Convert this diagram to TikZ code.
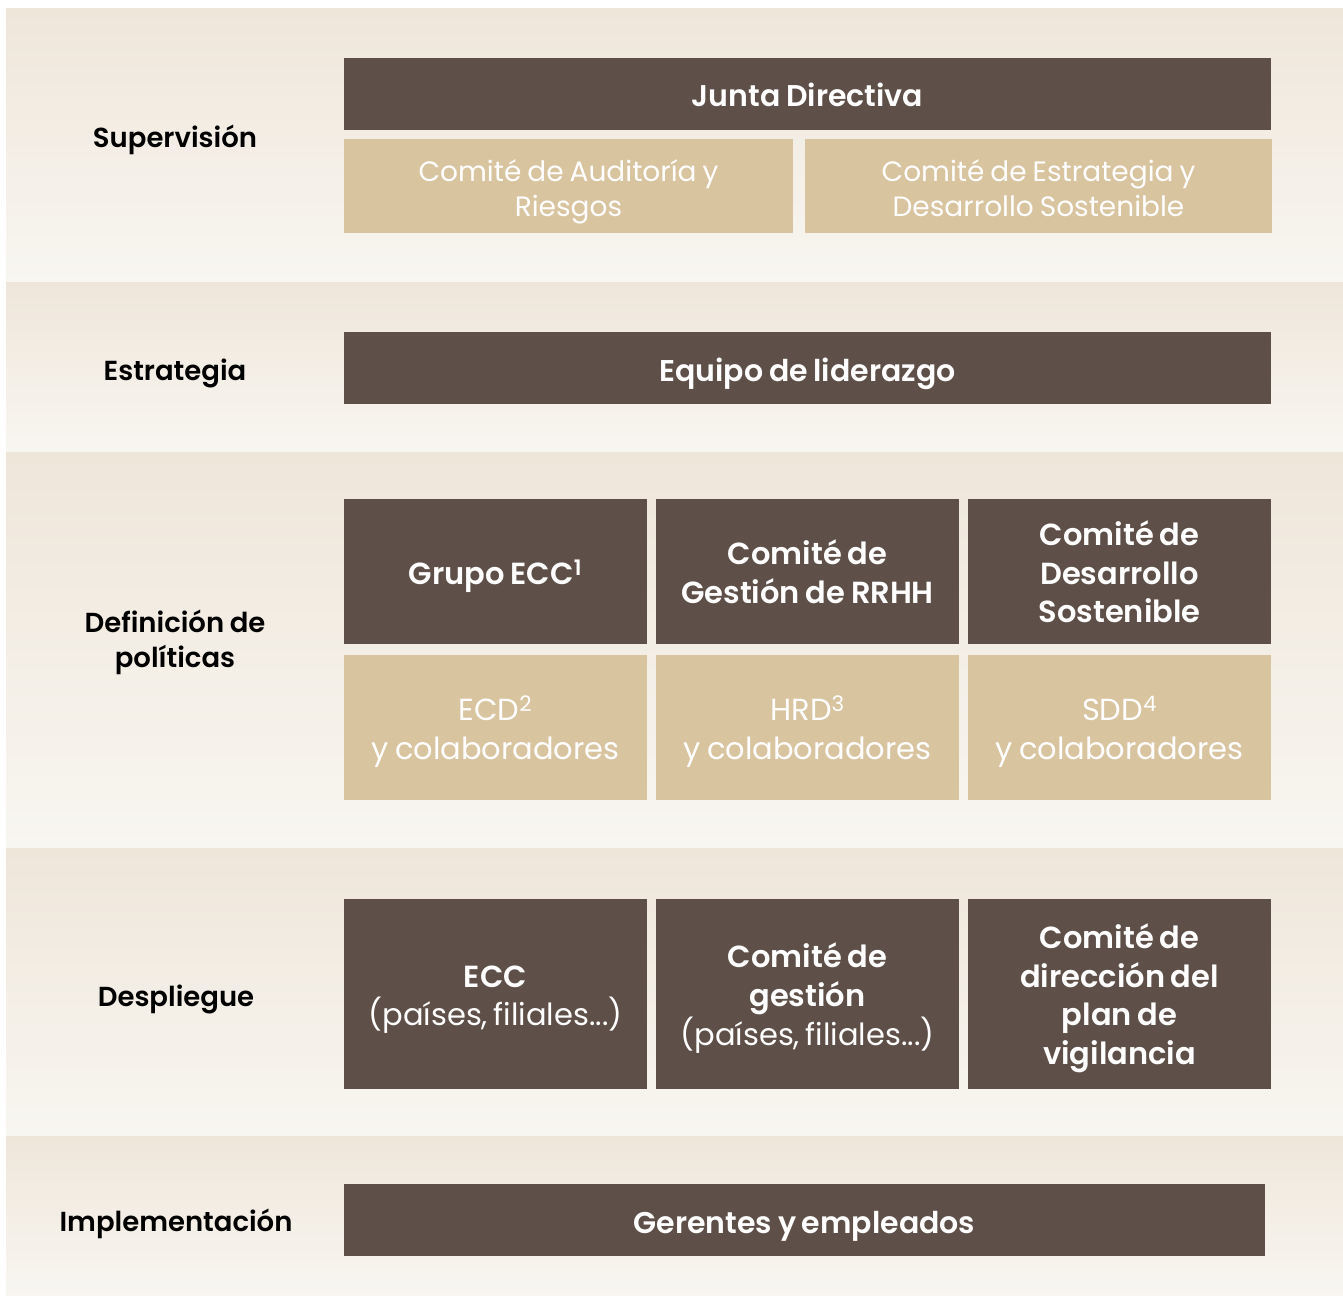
\documentclass[tikz,border=0pt]{standalone}
\usepackage{fontspec}
\setmainfont{Poppins}[UprightFont=*, BoldFont=* SemiBold]
\definecolor{bandtop}{HTML}{EFE6DA}
\definecolor{bandbot}{HTML}{F8F6F1}
\definecolor{darkbox}{HTML}{5E5048}
\definecolor{tanbox}{HTML}{D9C4A0}
\newcommand{\tightsp}{\spaceskip=0.8\fontdimen2\font plus 0.1\fontdimen3\font\relax}
\newcommand{\lblsp}{\spaceskip=0.85\fontdimen2\font plus 0.1\fontdimen3\font\relax}
\newcommand{\topstrut}[1]{\relax\vrule height #1 depth 0pt width 0pt\relax}
\newcommand{\botstrut}{\relax\vrule height 0pt depth 9pt width 0pt\relax}
\newcommand{\sT}{\topstrut{35pt}}% single-line box text
\newcommand{\mT}{\topstrut{34pt}}% multi-line box text
\newcommand{\lT}{\topstrut{31pt}}% single-line label
\newcommand{\lmT}{\topstrut{32pt}}% multi-line label
\begin{document}
\begin{tikzpicture}[x=1pt,y=-1pt,
  boxbase/.style={rectangle, inner sep=0pt, align=center, text=white},
  darkb/.style={boxbase, fill=darkbox, font=\fontsize{30.5}{38.7}\selectfont\bfseries\tightsp},
  widedark/.style={darkb, font=\fontsize{30}{38.7}\selectfont\bfseries\tightsp},
  tanb/.style={boxbase, fill=tanbox, font=\fontsize{30.5}{38.7}\selectfont\tightsp},
  tansm/.style={boxbase, fill=tanbox, font=\fontsize{28}{35}\selectfont\tightsp},
  lbl/.style={inner sep=0pt, align=center, text=black,
    font=\fontsize{27.5}{35}\selectfont\bfseries\lblsp}]
\useasboundingbox (0,0) rectangle (1343,1295);
\fill[white] (0,0) rectangle (1343,1295);
\foreach \a/\b in {9/282,282/452,452/848,848/1136,1136/1295}
  \shade[top color=bandtop, bottom color=bandbot] (6,\a) rectangle (1343,\b);
% labels
\node[lbl] (l1) at (175,136) {\lT Supervisión\botstrut};
\node[lbl] (l2) at (175,369) {\lT Estrategia\botstrut};
\node[lbl] (l3) at (175,638) {\lmT Definición de\\políticas\botstrut};
\node[lbl] (l4) at (176,995) {\lT Despliegue\botstrut};
\node[lbl] (l5) at (176,1220) {\lT Implementación\botstrut};
% supervision
\node[widedark, minimum width=927pt, minimum height=72pt] (jd) at (807.5,94) {\sT Junta Directiva\botstrut};
\node[tansm, minimum width=449pt, minimum height=94pt] (car) at (568.5,186) {\mT Comité de Auditoría y\\Riesgos\botstrut};
\node[tansm, minimum width=467pt, minimum height=94pt] (ceds) at (1038.5,186) {\mT Comité de Estrategia y\\Desarrollo Sostenible\botstrut};
% estrategia
\node[widedark, minimum width=927pt, minimum height=72pt] (eq) at (807.5,368) {\sT Equipo de liderazgo\botstrut};
% definicion
\node[darkb, minimum width=303pt, minimum height=145pt] (ecc) at (495.5,571.5) {\sT Grupo ECC\textsuperscript{1}\botstrut};
\node[darkb, minimum width=303pt, minimum height=145pt] (rrhh) at (807.5,571.5) {\mT Comité de\\Gestión de RRHH\botstrut};
\node[darkb, minimum width=303pt, minimum height=145pt] (cds) at (1119.5,571.5) {\mT Comité de\\Desarrollo\\Sostenible\botstrut};
\node[tanb, minimum width=303pt, minimum height=145pt] (ecd) at (495.5,727.5) {\mT ECD\textsuperscript{2}\\y colaboradores\botstrut};
\node[tanb, minimum width=303pt, minimum height=145pt] (hrd) at (807.5,727.5) {\mT HRD\textsuperscript{3}\\y colaboradores\botstrut};
\node[tanb, minimum width=303pt, minimum height=145pt] (sdd) at (1119.5,727.5) {\mT SDD\textsuperscript{4}\\y colaboradores\botstrut};
% despliegue
\node[darkb, minimum width=303pt, minimum height=190pt] (eccp) at (495.5,994) {\mT ECC\\\mdseries(países, filiales...)\botstrut};
\node[darkb, minimum width=303pt, minimum height=190pt] (cgp) at (807.5,994) {\mT Comité de\\gestión\\\mdseries(países, filiales...)\botstrut};
\node[darkb, minimum width=303pt, minimum height=190pt] (cdpv) at (1119.5,994) {\mT Comité de\\dirección del\\plan de\\vigilancia\botstrut};
% implementacion
\node[widedark, minimum width=921pt, minimum height=72pt] (ger) at (804.5,1220) {\sT Gerentes y empleados\botstrut};
\end{tikzpicture}
\end{document}
